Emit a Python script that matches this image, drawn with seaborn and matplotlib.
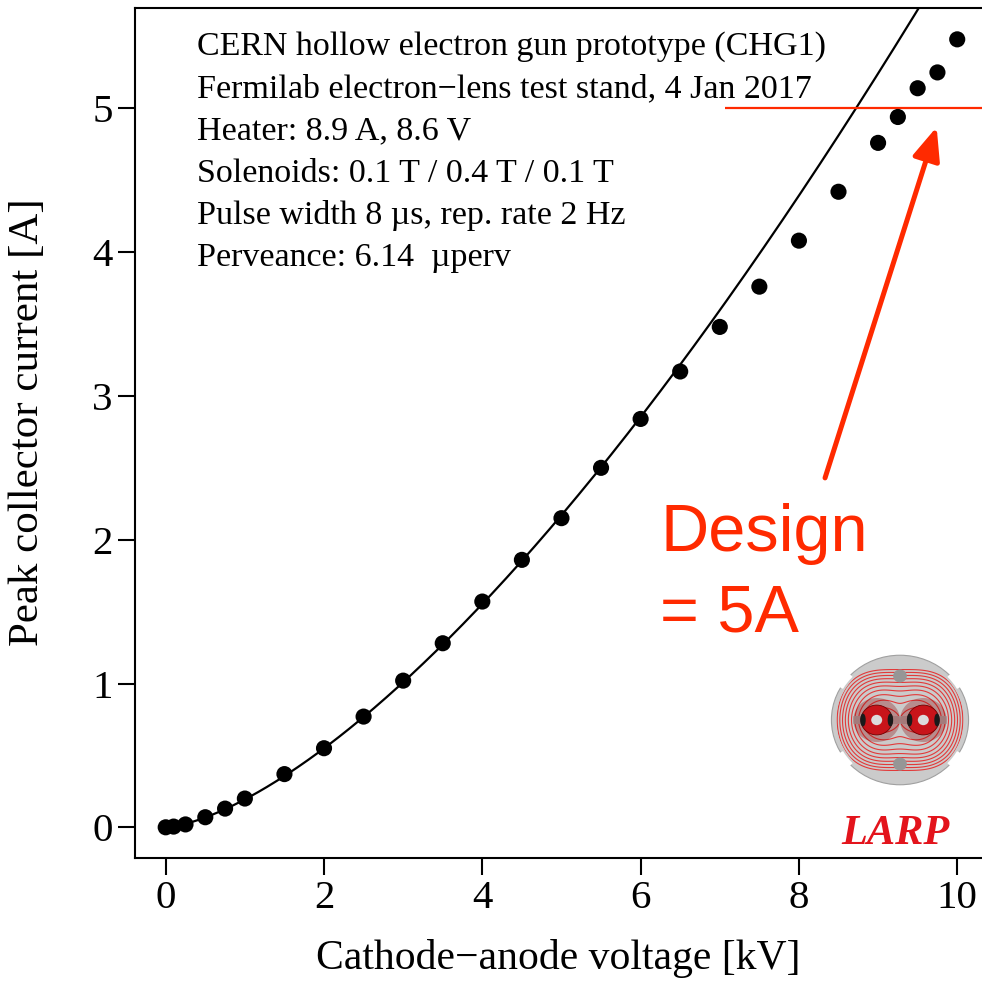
import numpy as np
import pandas as pd
import matplotlib
matplotlib.use("Agg")
import matplotlib.pyplot as plt
import seaborn as sns
from matplotlib.patches import Circle, Wedge, Rectangle, Ellipse

# Measured peak collector current vs cathode-anode voltage
voltage_kv = [0.0, 0.1, 0.25, 0.5, 0.75, 1.0, 1.5, 2.0, 2.5, 3.0, 3.5, 4.0, 4.5,
              5.0, 5.5, 6.0, 6.5, 7.0, 7.5, 8.0, 8.5, 9.0, 9.25, 9.5, 9.75, 10.0]
current_a = [0.0, 0.005, 0.02, 0.07, 0.13, 0.20, 0.37, 0.55, 0.77, 1.02, 1.28, 1.57, 1.86,
             2.15, 2.50, 2.84, 3.17, 3.48, 3.76, 4.08, 4.42, 4.76, 4.94, 5.14, 5.25, 5.48]

# Child-Langmuir fit: I = P * V^1.5
perveance_uperv = 6.14
design_current_a = 5.0

info_lines = [
    "CERN hollow electron gun prototype (CHG1)",
    "Fermilab electron\u2212lens test stand, 4 Jan 2017",
    "Heater: 8.9 A, 8.6 V",
    "Solenoids: 0.1 T / 0.4 T / 0.1 T",
    "Pulse width 8 \u00b5s, rep. rate 2 Hz",
    "Perveance: 6.14  \u00b5perv",
]
x_ticks = [0, 2, 4, 6, 8, 10]
y_ticks = [0, 1, 2, 3, 4, 5]

RED = "#ff2a00"

sns.set_theme(style="ticks")
plt.rcParams["font.family"] = ["Liberation Serif", "DejaVu Serif"]
plt.rcParams["text.color"] = "black"
plt.rcParams["axes.labelcolor"] = "black"

W, H = 982, 984
fig = plt.figure(figsize=(W / 100, H / 100), dpi=100)
ax = fig.add_axes([135 / W, 1 - 858 / H, (982 - 135) / W, (858 - 8) / H])

meas = pd.DataFrame({"V": voltage_kv, "I": current_a})
v_fit = np.linspace(0, 10.4, 400)
fit = pd.DataFrame({"V": v_fit, "I": perveance_uperv * 1e-6 * (v_fit * 1e3) ** 1.5})

sns.lineplot(data=fit, x="V", y="I", ax=ax, color="black", lw=1.6)
sns.scatterplot(data=meas, x="V", y="I", ax=ax, color="black", s=135,
                edgecolor="none", zorder=3)

ax.set_xlim(-0.388, 10.313)
ax.set_ylim(-0.2135, 5.698)
ax.set_xticks(x_ticks)
ax.set_yticks(y_ticks)
ax.set_xticklabels([str(t) for t in x_ticks])
ax.set_yticklabels([str(t) for t in y_ticks])
ax.tick_params(axis="both", length=12, width=1.5, labelsize=29.5, color="black",
               labelcolor="black", pad=4, direction="out")
for side in ["left", "bottom", "top"]:
    ax.spines[side].set_linewidth(1.5)
    ax.spines[side].set_color("black")
ax.spines["right"].set_visible(False)

ax.set_xlabel("Cathode\u2212anode voltage [kV]", fontsize=30, labelpad=16, color="black")
ax.set_ylabel("Peak collector current [A]", fontsize=31, color="black")
ax.yaxis.set_label_coords(-0.104, 0.513)

# Run conditions block
for k, line in enumerate(info_lines):
    ax.text(0.0732, 0.9545 - k * 0.0497, line, transform=ax.transAxes,
            fontsize=24.5, ha="left", va="center", color="black")

# Design current marker and call-out
ax.hlines(design_current_a, 7.06, 10.313, color=RED, lw=1.6, zorder=2)
ax.annotate("", xy=(9.74, 4.87), xytext=(8.33, 2.43),
            arrowprops=dict(arrowstyle="-|>,head_length=1.0,head_width=0.42",
                            mutation_scale=20, color=RED, lw=3.6,
                            shrinkA=0, shrinkB=0))
ax.text(6.25, 1.76, "Design\n= 5A", fontsize=48, color=RED, ha="left",
        va="center", linespacing=1.38, family=["Liberation Sans", "DejaVu Sans"])

# LARP logo
lax = fig.add_axes([828 / W, 1 - 788 / H, 144 / W, 136 / H])
lax.set_xlim(-1.05, 1.05)
lax.set_ylim(-1.05, 1.05)
lax.axis("off")

yoke = Circle((0, 0), 1.0, fc="#cbcbcb", ec="#a0a0a0", lw=0.8, zorder=1)
lax.add_patch(yoke)
for ang in (37, 143, 217, 323):
    lax.add_patch(Wedge((0, 0), 1.08, ang - 7, ang + 7, width=0.12,
                        fc="white", ec="none", zorder=2))

gx, gy = np.meshgrid(np.linspace(-1, 1, 300), np.linspace(-1, 1, 300))
r1 = np.hypot(gx + 0.34, gy)
r2 = np.hypot(gx - 0.34, gy)
th = np.arctan2(gy, gx)
field = r1 * r2 * (1 + 0.08 * np.cos(4 * th))
cs = lax.contour(gx, gy, field, levels=np.linspace(0.05, 0.78, 11),
                 colors="#e23a3a", linewidths=0.8, zorder=3)
clip = Circle((0, 0), 0.93, transform=lax.transData)
cs.set_clip_path(clip)

lax.add_patch(Rectangle((-0.68, -0.06), 1.36, 0.12, fc="#b0b0b0", ec="none", zorder=4))
for cy in (0.68, -0.68):
    lax.add_patch(Circle((0, cy), 0.1, fc="#969696", ec="none", zorder=4))
for cx in (-0.34, 0.34):
    lax.add_patch(Circle((cx, 0), 0.34, fc="#8a0000", ec="none", alpha=0.3, zorder=5))
    lax.add_patch(Circle((cx, 0), 0.23, fc="#c8141a", ec="#700000", lw=0.6, zorder=6))
    for dx in (-0.2, 0.2):
        lax.add_patch(Ellipse((cx + dx, 0), 0.08, 0.2, fc="#1a1a1a", ec="none", zorder=7))
    lax.add_patch(Circle((cx, 0), 0.08, fc="#dcdcdc", ec="none", zorder=8))

fig.text(895 / W, 1 - 834 / H, "LARP", fontsize=30.5, color="#e3141c",
         fontweight="bold", fontstyle="italic", ha="center", va="center")

fig.savefig("out.png", dpi=100)
